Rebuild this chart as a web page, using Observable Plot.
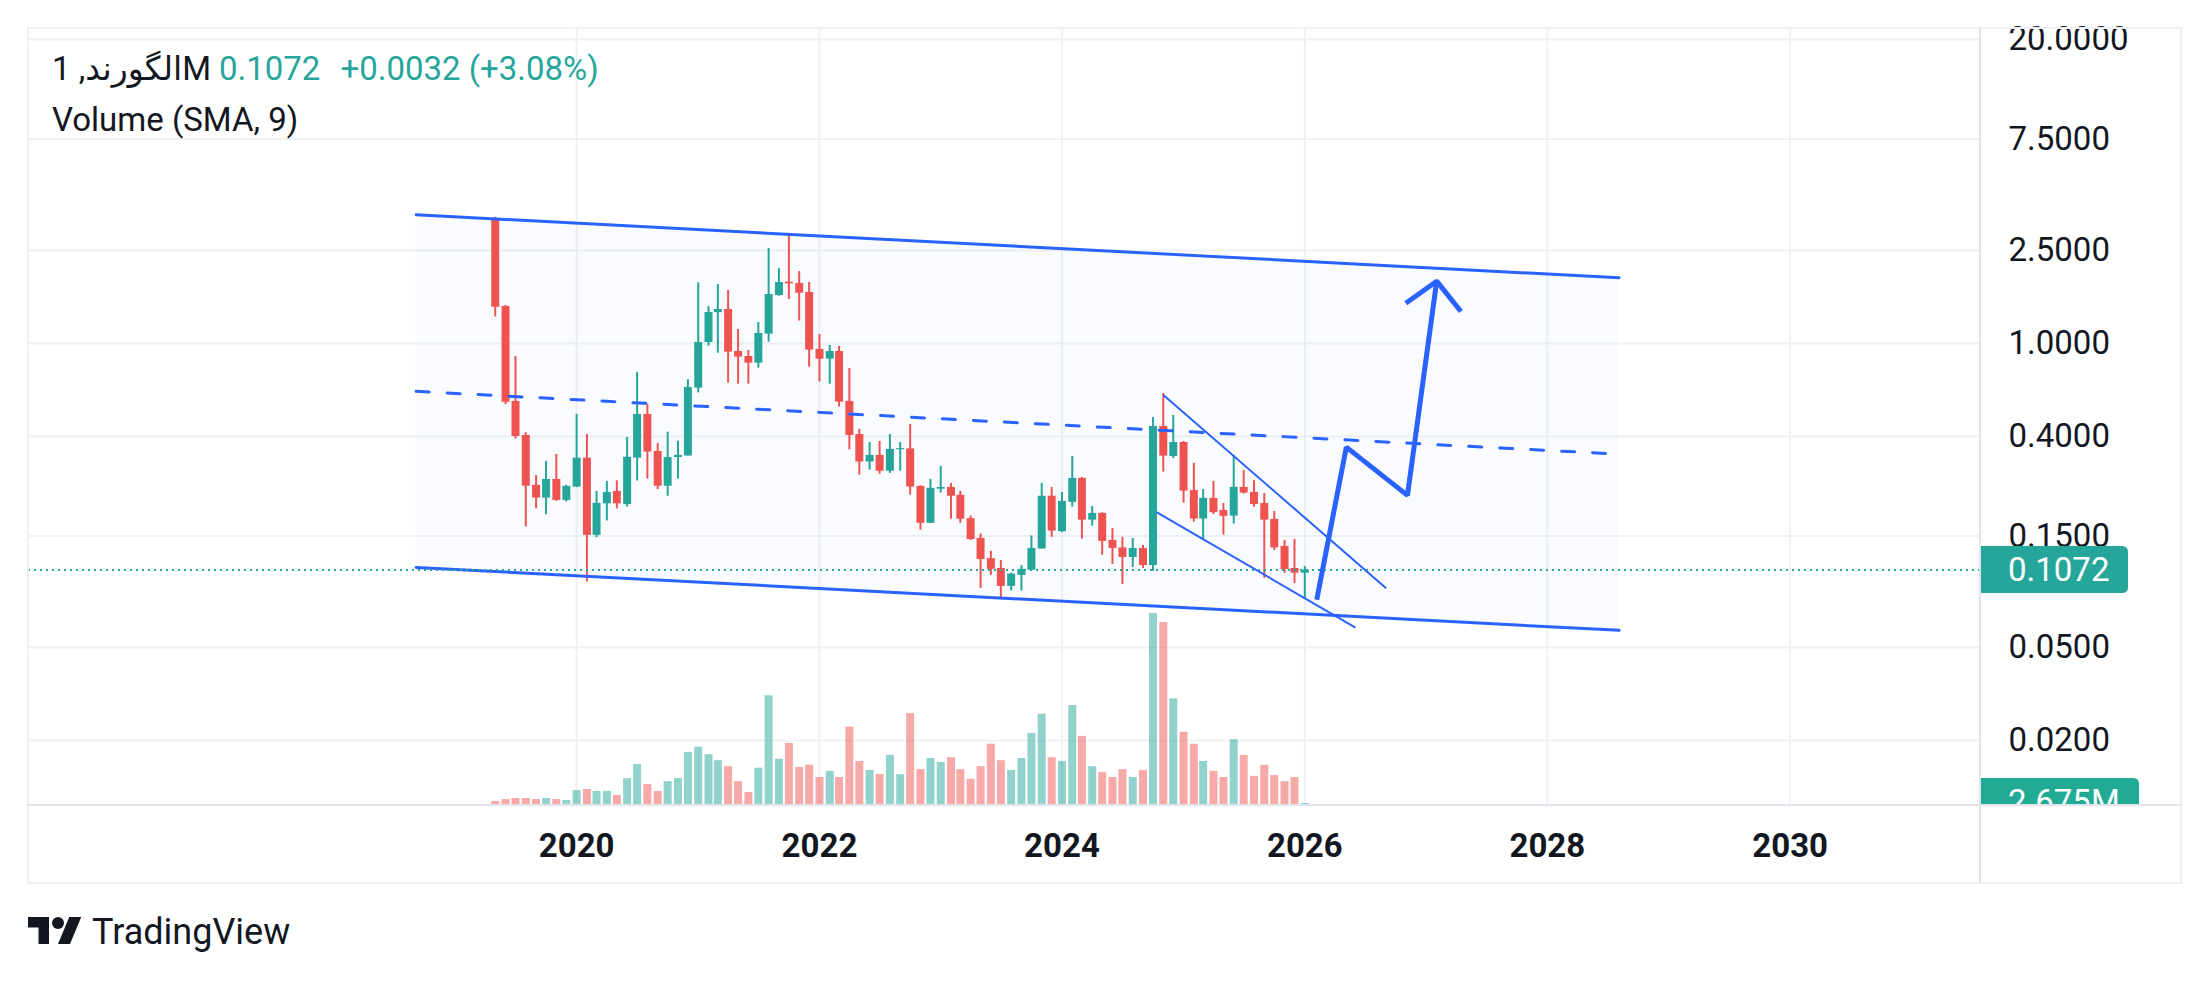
<!DOCTYPE html>
<html>
<head>
<meta charset="utf-8">
<script src="https://cdn.jsdelivr.net/npm/d3@7"></script>
<script src="https://cdn.jsdelivr.net/npm/@observablehq/plot@0.6"></script>
<style>
  html, body { margin: 0; padding: 0; background: #ffffff; }
  #wrap { position: relative; width: 2209px; height: 981px; overflow: hidden; background: #ffffff;
          font-family: Roboto, "DejaVu Sans", sans-serif; color: #131722; }
  .abs { position: absolute; }
  .abs svg { display: block; }
  .hl { position: absolute; background: #edf0f4; }
  .dv { position: absolute; background: #e0e3eb; }
</style>
</head>
<body>
<div id="wrap">
  <div id="pricePlot" class="abs" style="left:0;top:0;"></div>
  <div id="volPlot" class="abs" style="left:0;top:0;"></div>
  <!-- pane frame -->
  <div class="hl" style="left:27px;top:27px;width:2156px;height:2px;"></div>
  <div class="hl" style="left:27px;top:27px;width:2px;height:857px;"></div>
  <div class="hl" style="left:2180px;top:27px;width:2px;height:857px;"></div>
  <div class="hl" style="left:27px;top:882px;width:2156px;height:2px;"></div>
  <div class="dv" style="left:1979px;top:27px;width:2px;height:857px;"></div>
  <div class="dv" style="left:27px;top:804px;width:2155px;height:2px;"></div>
  <!-- legend -->
  <div class="abs" style="left:52px;top:49px;font-size:33px;line-height:40px;white-space:nowrap;">
    <span id="sym"></span><span id="lastTxt" style="color:#26a69a;margin-left:8px;"></span><span id="chgTxt" style="color:#26a69a;margin-left:20px;"></span>
  </div>
  <div id="volLegend" class="abs" style="left:52px;top:100px;font-size:33px;line-height:40px;white-space:nowrap;"></div>
  <!-- footer logo -->
  <svg class="abs" style="left:28px;top:911px;" width="54" height="42" viewBox="0 0 36 28">
    <path d="M14 22H7V11H0V4h14v18zM28 22h-8l7.5-18h8L28 22z" fill="#131722"></path>
    <circle cx="20" cy="8" r="4" fill="#131722"></circle>
  </svg>
  <div class="abs" style="left:92px;top:910px;font-size:36px;line-height:44px;color:#131722;">TradingView</div>
</div>
<script>
// ---------------- data ----------------
const symbolName = "الگورند";
const intervalName = "1M";
const volumeLegend = "Volume (SMA, 9)";

const months = [
  "2019-05","2019-06","2019-07","2019-08","2019-09","2019-10","2019-11","2019-12",
  "2020-01","2020-02","2020-03","2020-04","2020-05","2020-06","2020-07","2020-08","2020-09","2020-10","2020-11","2020-12",
  "2021-01","2021-02","2021-03","2021-04","2021-05","2021-06","2021-07","2021-08","2021-09","2021-10","2021-11","2021-12",
  "2022-01","2022-02","2022-03","2022-04","2022-05","2022-06","2022-07","2022-08","2022-09","2022-10","2022-11","2022-12",
  "2023-01","2023-02","2023-03","2023-04","2023-05","2023-06","2023-07","2023-08","2023-09","2023-10","2023-11","2023-12",
  "2024-01","2024-02","2024-03","2024-04","2024-05","2024-06","2024-07","2024-08","2024-09","2024-10","2024-11","2024-12",
  "2025-01","2025-02","2025-03","2025-04","2025-05","2025-06","2025-07","2025-08","2025-09","2025-10","2025-11","2025-12",
  "2026-01"
];
const opens = [
  3.42,1.44,0.565,0.404,0.247,0.218,0.262,0.213,0.243,0.323,
  0.151,0.206,0.2327,0.2047,0.323,0.497,0.345,0.245,0.325,0.33,
  0.644,1.01,1.355,1.398,0.924,0.88,0.824,1.097,1.605,1.83,
  1.806,1.653,0.944,0.857,0.924,0.565,0.408,0.311,0.332,0.284,
  0.351,0.354,0.2445,0.170,0.238,0.242,0.224,0.178,0.1465,0.120,
  0.109,0.0913,0.1017,0.107,0.132,0.222,0.1565,0.209,0.2646,0.1754,
  0.1874,0.1436,0.1334,0.1215,0.1327,0.1122,0.4416,0.3285,0.377,0.2346,
  0.1773,0.2173,0.193,0.1826,0.2423,0.2305,0.2067,0.1767,0.1354,0.1089,
  0.1040
];
const highs = [
  3.47,1.455,0.88,0.415,0.272,0.313,0.335,0.247,0.497,0.408,
  0.233,0.257,0.2585,0.396,0.752,0.548,0.373,0.4175,0.382,0.70,
  1.82,1.44,1.79,1.686,1.148,0.934,1.23,2.55,2.09,2.96,
  2.03,1.824,1.093,0.981,0.972,0.782,0.429,0.377,0.381,0.408,
  0.377,0.45,0.246,0.262,0.298,0.252,0.233,0.1826,0.153,0.129,
  0.118,0.104,0.112,0.15,0.252,0.242,0.2305,0.3285,0.267,0.2008,
  0.1887,0.1616,0.148,0.1465,0.1367,0.4825,0.611,0.492,0.381,0.307,
  0.2373,0.257,0.2067,0.332,0.2862,0.2588,0.228,0.191,0.1436,0.145,
  0.111
];
const lows = [
  1.30,0.548,0.39,0.164,0.196,0.185,0.211,0.210,0.242,0.0953,
  0.1475,0.174,0.196,0.1995,0.258,0.263,0.237,0.222,0.263,0.33,
  0.615,0.974,0.909,0.677,0.670,0.67,0.785,1.013,1.594,1.543,
  1.247,0.792,0.684,0.670,0.534,0.351,0.273,0.287,0.276,0.278,
  0.284,0.2245,0.159,0.170,0.229,0.177,0.170,0.1436,0.0895,0.1017,
  0.0811,0.0872,0.0872,0.107,0.132,0.148,0.155,0.1995,0.1455,0.1654,
  0.1243,0.1134,0.0931,0.110,0.1089,0.1058,0.2816,0.322,0.2074,0.172,
  0.145,0.1855,0.1514,0.1687,0.227,0.1995,0.0988,0.1301,0.1038,0.094,
  0.0811
];
const closes = [
  1.43,0.561,0.40,0.245,0.218,0.262,0.213,0.2445,0.323,0.151,
  0.207,0.2305,0.206,0.326,0.497,0.343,0.245,0.325,0.332,0.648,
  1.01,1.358,1.398,0.918,0.874,0.824,1.104,1.621,1.824,1.80,
  1.642,0.937,0.857,0.924,0.561,0.404,0.311,0.332,0.284,0.352,
  0.355,0.243,0.170,0.240,0.242,0.222,0.177,0.145,0.119,0.108,
  0.0913,0.103,0.108,0.1327,0.222,0.1575,0.211,0.2646,0.1754,0.1874,
  0.1422,0.1327,0.1215,0.1327,0.1122,0.4416,0.3296,0.377,0.2335,0.1773,
  0.2173,0.1887,0.182,0.2423,0.229,0.2047,0.1754,0.1334,0.1079,0.1040,
  0.1072
];
// monthly volume, millions
const volumes = [
  5.4,8,9.4,9.4,8,9.4,8,6.7,20,21.4,
  18.8,18.8,13.4,36,55,28,18.8,32,36,71,
  78,68,60,52,32,17.4,50,147,62,83,
  51,54,37.5,45.6,37.5,105,59,47,41.5,67,
  41.5,123,48,63,57.6,64,48,35,52,82,
  60,47,63,96.5,122,64,59,134,92.5,52,
  44,37.5,48,37.5,47,257,245,143,98,82,
  59,45.6,37.5,88,67,39,54,40,32,37.5,
  2.675
];

// price-axis ticks and time-axis ticks
const priceTicks = [20, 7.5, 2.5, 1, 0.4, 0.15, 0.05, 0.02];
const yearTicks = [2020, 2022, 2024, 2026, 2028, 2030];

// drawings (date, price)
const channelDates = ["2018-09-05", "2028-08-04"];
const channelUpper = [3.556, 1.911];
const channelMiddle = [0.624, 0.336];
const channelLower = [0.1101, 0.0592];
const wedgeUpperDates = ["2024-11-03", "2026-09-01"];
const wedgeUpperPrices = [0.5994, 0.0901];
const wedgeLowerDates = ["2024-10-14", "2026-05-31"];
const wedgeLowerPrices = [0.1888, 0.0611];
const arrowDates = ["2026-02-06", "2026-05-06", "2026-11-06", "2027-02-02"];
const arrowPrices = [0.0801, 0.3601, 0.2238, 1.848];
const arrowHeadDates = ["2026-11-01", "2027-02-02", "2027-04-16"];
const arrowHeadPrices = [1.488, 1.848, 1.371];

// visible range of the time scale
const xDomain = ["2015-06-26", "2031-07-28"];
const yDomain = [0.010538, 22.29];

// ---------------- styling ----------------
const UP = "#26a69a", DOWN = "#ef5350";
const UPV = "rgba(38,166,154,0.5)", DOWNV = "rgba(239,83,80,0.5)";
const BLUE = "#2962ff";
const GRID = "#f0f1f4";
const W = 2209, H = 882;
const M = {marginLeft: 28, marginRight: 229, marginTop: 28, marginBottom: 77};

const parseMonth = d3.utcParse("%Y-%m");
const parseDay = d3.utcParse("%Y-%m-%d");

const bars = months.map((m, i) => ({
  date: parseMonth(m), open: opens[i], high: highs[i], low: lows[i], close: closes[i], volume: volumes[i],
  up: closes[i] >= opens[i]
}));
const channel = channelDates.map((d, i) => ({date: parseDay(d), upper: channelUpper[i], middle: channelMiddle[i], lower: channelLower[i]}));
const wedgeUpper = wedgeUpperDates.map((d, i) => ({date: parseDay(d), price: wedgeUpperPrices[i]}));
const wedgeLower = wedgeLowerDates.map((d, i) => ({date: parseDay(d), price: wedgeLowerPrices[i]}));
const arrow = arrowDates.map((d, i) => ({date: parseDay(d), price: arrowPrices[i]}));
const arrowHead = arrowHeadDates.map((d, i) => ({date: parseDay(d), price: arrowHeadPrices[i]}));
const yearDates = yearTicks.map(y => new Date(Date.UTC(y, 0, 1)));

const last = bars[bars.length - 1];
const prev = bars[bars.length - 2];
const fmt4 = d3.format(".4f");

function rightRoundedRect(x, y, w, h, r) {
  return `M${x},${y}H${x + w - r}Q${x + w},${y} ${x + w},${y + r}V${y + h - r}Q${x + w},${y + h} ${x + w - r},${y + h}H${x}Z`;
}

function lastPriceTag(index, scales, values, dimensions) {
  const y = scales.y(last.close);
  const x0 = dimensions.width - dimensions.marginRight;
  const g = d3.create("svg:g");
  g.append("path").attr("d", rightRoundedRect(x0, y - 23.5, 148, 47, 6)).attr("fill", UP);
  g.append("text").attr("x", x0 + 28).attr("y", y).attr("dy", "0.36em").attr("text-anchor", "start")
    .attr("fill", "#ffffff").attr("font-size", 33).text(fmt4(last.close));
  return g.node();
}

function lastVolumeTag(index, scales, values, dimensions) {
  const y = scales.y(last.volume);
  const x0 = dimensions.width - dimensions.marginRight;
  const bottom = dimensions.height - dimensions.marginBottom;
  const g = d3.create("svg:g");
  const clip = g.append("clipPath").attr("id", "volTagClip");
  clip.append("rect").attr("x", x0).attr("y", dimensions.marginTop).attr("width", dimensions.marginRight).attr("height", bottom - dimensions.marginTop);
  const inner = g.append("g").attr("clip-path", "url(#volTagClip)");
  inner.append("path").attr("d", rightRoundedRect(x0, y - 25, 159, 47, 6)).attr("fill", "#22ab94");
  inner.append("text").attr("x", x0 + 28).attr("y", y - 1.5).attr("dy", "0.36em").attr("text-anchor", "start")
    .attr("fill", "#ffffff").attr("font-size", 33).text(d3.format(".3f")(last.volume) + "M");
  return g.node();
}

// ---------------- price pane ----------------
const pricePlot = Plot.plot({
  width: W, height: H, ...M,
  style: {fontFamily: "Roboto, 'DejaVu Sans', sans-serif", fontSize: "33px", background: "transparent", color: "#131722"},
  x: {type: "utc", domain: xDomain.map(parseDay)},
  y: {type: "log", domain: yDomain},
  color: {type: "identity"},
  marks: [
    Plot.gridY(priceTicks, {stroke: GRID, strokeOpacity: 1, strokeWidth: 2}),
    Plot.gridX(yearDates, {stroke: GRID, strokeOpacity: 1, strokeWidth: 2}),
    Plot.areaY(channel, {x: "date", y1: "lower", y2: "upper", fill: BLUE, fillOpacity: 0.028}),
    Plot.ruleX(bars, {x: "date", y1: "low", y2: "high", stroke: d => d.up ? UP : DOWN, strokeWidth: 2}),
    Plot.ruleX(bars, {x: "date", y1: "open", y2: "close", stroke: d => d.up ? UP : DOWN, strokeWidth: 8}),
    Plot.line(channel, {x: "date", y: "upper", stroke: BLUE, strokeWidth: 3}),
    Plot.line(channel, {x: "date", y: "lower", stroke: BLUE, strokeWidth: 3}),
    Plot.line(channel, {x: "date", y: "middle", stroke: BLUE, strokeWidth: 3, strokeDasharray: "13 18"}),
    Plot.line(wedgeUpper, {x: "date", y: "price", stroke: BLUE, strokeWidth: 2}),
    Plot.line(wedgeLower, {x: "date", y: "price", stroke: BLUE, strokeWidth: 2}),
    Plot.line(arrow, {x: "date", y: "price", stroke: BLUE, strokeWidth: 5, strokeLinejoin: "miter", strokeLinecap: "butt"}),
    Plot.line(arrowHead, {x: "date", y: "price", stroke: BLUE, strokeWidth: 5, strokeLinejoin: "miter", strokeLinecap: "butt"}),
    Plot.ruleY([last.close], {stroke: UP, strokeWidth: 2, strokeDasharray: "2 4"}),
    Plot.axisY(priceTicks, {anchor: "right", tickFormat: fmt4, tickSize: 0, tickPadding: 28, fontSize: 33, fill: "#131722", label: null}),
    Plot.axisX(yearDates, {anchor: "bottom", tickFormat: d3.utcFormat("%Y"), tickSize: 0, tickPadding: 28, fontSize: 33, fontWeight: 700, fill: "#131722", label: null}),
    lastPriceTag
  ]
});
document.getElementById("pricePlot").appendChild(pricePlot);

// ---------------- volume overlay ----------------
const volPlot = Plot.plot({
  width: W, height: H, ...M,
  style: {fontFamily: "Roboto, sans-serif", fontSize: "33px", background: "transparent"},
  x: {type: "utc", domain: xDomain.map(parseDay), axis: null},
  y: {type: "linear", domain: [0, 1040], axis: null},
  color: {type: "identity"},
  marks: [
    Plot.ruleX(bars, {x: "date", y1: 0, y2: "volume", stroke: d => d.up ? UPV : DOWNV, strokeWidth: 8}),
    lastVolumeTag
  ]
});
document.getElementById("volPlot").appendChild(volPlot);

// ---------------- legend text ----------------
document.getElementById("sym").textContent = `${symbolName}, ${intervalName}`;
document.getElementById("lastTxt").textContent = fmt4(last.close);
const chg = last.close - prev.close;
document.getElementById("chgTxt").textContent = `${chg >= 0 ? "+" : ""}${fmt4(chg)} (${chg >= 0 ? "+" : ""}${(chg / prev.close * 100).toFixed(2)}%)`;
document.getElementById("volLegend").textContent = volumeLegend;
</script>
</body>
</html>
